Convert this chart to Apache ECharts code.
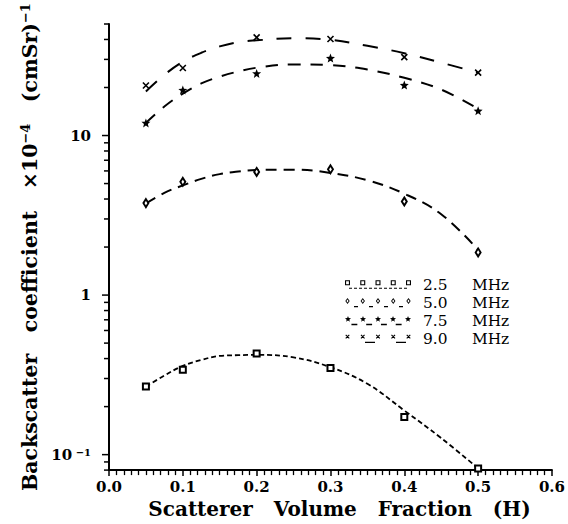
<!DOCTYPE html>
<html>
<head>
<meta charset="utf-8">
<script src="https://cdn.jsdelivr.net/npm/echarts@6/dist/echarts.min.js"></script>
<style>
  html, body { margin: 0; padding: 0; background: #fff; }
  #chart { width: 568px; height: 524px; }
</style>
</head>
<body>
<div id="chart"></div>
<script>
// Measured backscatter coefficients (x10^-4 (cm Sr)^-1) against scatterer volume fraction
const fractions = [0.05, 0.1, 0.2, 0.3, 0.4, 0.5];
const meas25 = [0.267, 0.340, 0.430, 0.349, 0.172, 0.082];
const meas50 = [3.77, 5.13, 5.91, 6.14, 3.86, 1.85];
const meas75 = [12.0, 19.3, 24.5, 30.6, 20.7, 14.3];
const meas90 = [20.6, 26.5, 41.2, 40.3, 31.0, 24.8];

// Fitted curves, sampled along the fraction axis
const fitX = [0.05, 0.075, 0.1, 0.125, 0.15, 0.175, 0.2, 0.25, 0.3, 0.35, 0.4, 0.45, 0.5];
const fit25 = [0.267, 0.313, 0.360, 0.392, 0.416, 0.420, 0.422, 0.407, 0.353, 0.278, 0.189, 0.127, 0.082];
const fit50 = [3.75, 4.37, 4.87, 5.35, 5.73, 5.95, 6.08, 6.11, 5.83, 5.24, 4.32, 3.21, 1.92];
const fit75 = [12.0, 15.2, 18.3, 21.2, 23.4, 25.2, 26.6, 27.9, 27.6, 25.9, 23.0, 19.4, 14.7];
const fit90 = [18.9, 24.0, 29.0, 33.0, 36.2, 38.5, 39.5, 40.7, 39.8, 36.5, 32.8, 28.6, 24.8];

const seriesNames = ['2.5     MHz', '5.0     MHz', '7.5     MHz', '9.0     MHz'];

// Tick values for the logarithmic axis
const yMajorTicks = [0.1, 1, 10];
const yMinorTicks = [0.08, 0.09, 0.2, 0.3, 0.4, 0.5, 0.6, 0.7, 0.8, 0.9,
                     2, 3, 4, 5, 6, 7, 8, 9, 20, 30, 40, 50];

const FONT = 'DejaVu Serif';

// ---- path helpers for the marker glyphs and legend icons ----
function poly(pts, cw) {
  let a = 0;
  for (let i = 0; i < pts.length; i++) {
    const p = pts[i], q = pts[(i + 1) % pts.length];
    a += p[0] * q[1] - q[0] * p[1];
  }
  if ((a > 0) !== cw) pts = pts.slice().reverse();
  return 'M' + pts.map(p => p[0].toFixed(2) + ',' + p[1].toFixed(2)).join('L') + 'Z';
}
function bar(x1, y1, x2, y2, t) {
  const dx = x2 - x1, dy = y2 - y1, L = Math.hypot(dx, dy);
  const nx = -dy / L * t / 2, ny = dx / L * t / 2;
  return poly([[x1 + nx, y1 + ny], [x2 + nx, y2 + ny], [x2 - nx, y2 - ny], [x1 - nx, y1 - ny]], true);
}
function rectRing(cx, cy, s, t) {
  const h = s / 2, i = h - t;
  return poly([[cx - h, cy - h], [cx + h, cy - h], [cx + h, cy + h], [cx - h, cy + h]], true) +
         poly([[cx - i, cy - i], [cx + i, cy - i], [cx + i, cy + i], [cx - i, cy + i]], false);
}
function diamondRing(cx, cy, w, h, t) {
  const a = w / 2, b = h / 2, a2 = a - t, b2 = b - t * 1.4;
  return poly([[cx, cy - b], [cx + a, cy], [cx, cy + b], [cx - a, cy]], true) +
         poly([[cx, cy - b2], [cx + a2, cy], [cx, cy + b2], [cx - a2, cy]], false);
}
function starPts(cx, cy, r, ri) {
  const pts = [];
  for (let k = 0; k < 10; k++) {
    const ang = -Math.PI / 2 + k * Math.PI / 5;
    const rr = k % 2 === 0 ? r : ri;
    pts.push([cx + rr * Math.cos(ang), cy + rr * Math.sin(ang)]);
  }
  return pts;
}
function cross(cx, cy, s, t) {
  const h = s / 2;
  return bar(cx - h, cy - h, cx + h, cy + h, t) + bar(cx + h, cy - h, cx - h, cy + h, t);
}
function dashes(x0, x1, y, dash, gap, t) {
  let p = '';
  for (let x = x0; x < x1; x += dash + gap) p += bar(x, y, Math.min(x + dash, x1), y, t);
  return p;
}

// Series markers
const starSymbol = 'path://' + poly(starPts(10, 10, 10, 4.3), true);
const crossSymbol = 'path://M0,0L10,10M10,0L0,10';

// Legend icons: five markers in a row above a dashed stroke, box 66 x 10
const ICON_CX = [2.5, 17.75, 33, 48.25, 63.5];
const EDGES = bar(0, 9.4, 0.01, 9.4, 1.2) + bar(65.99, 9.4, 66, 9.4, 1.2);
const icon25 = 'path://' + ICON_CX.map(c => rectRing(c, 3, 5, 1.1)).join('') +
  dashes(4, 62, 8.5, 3, 2, 1.2) + EDGES;
const icon50 = 'path://' + ICON_CX.map(c => diamondRing(c, 3, 4.4, 6, 1.1)).join('') +
  bar(9, 8.6, 13, 8.6, 1.3) + bar(24, 8.6, 28, 8.6, 1.3) + bar(39, 8.6, 43, 8.6, 1.3) +
  bar(54, 8.6, 58, 8.6, 1.3) + EDGES;
const icon75 = 'path://' + ICON_CX.map(c => poly(starPts(c, 3.2, 3.2, 1.4), true)).join('') +
  bar(6, 8.6, 12, 8.6, 1.4) + bar(21, 8.6, 27, 8.6, 1.4) + bar(36, 8.6, 42, 8.6, 1.4) +
  bar(51, 8.6, 57, 8.6, 1.4) + EDGES;
const icon90 = 'path://' + ICON_CX.map(c => cross(c, 3, 3.6, 1.1)).join('') +
  bar(20, 8.8, 30, 8.8, 1.3) + bar(51, 8.8, 61, 8.8, 1.3) + EDGES;

const zip = (xs, ys) => xs.map((x, i) => [x, ys[i]]);

const fitStyles = [
  { data: fit25, dash: [5, 3], width: 1.8 },
  { data: fit50, dash: [11, 7], width: 2 },
  { data: fit75, dash: [12.5, 10], width: 2 },
  { data: fit90, dash: [15, 14], width: 2 }
];
const markerStyles = [
  { data: meas25, symbol: 'emptyRect', size: 6, border: 1.4 },
  { data: meas50, symbol: 'emptyDiamond', size: [5, 8], border: 1.4 },
  { data: meas75, symbol: starSymbol, size: 9, border: 0 },
  { data: meas90, symbol: crossSymbol, size: 6, border: 1.6 }
];

const series = [];
seriesNames.forEach((name, i) => {
  const f = fitStyles[i];
  series.push({
    name, type: 'line', data: zip(fitX, f.data), smooth: 0.4,
    showSymbol: false, symbol: 'none', silent: true, z: 2,
    itemStyle: { color: '#000' },
    lineStyle: { color: '#000', width: f.width, type: f.dash }
  });
  const m = markerStyles[i];
  series.push({
    name, type: 'scatter', data: zip(fractions, m.data), z: 3,
    symbol: m.symbol, symbolSize: m.size,
    itemStyle: { color: '#000', borderColor: '#000', borderWidth: m.border, opacity: 1 }
  });
});

// Tick marks on the logarithmic axis, positioned through the axis scale
series.push({
  type: 'custom', coordinateSystem: 'cartesian2d', silent: true, clip: false, z: 5,
  data: yMajorTicks.map(v => [0, v, 1]).concat(yMinorTicks.map(v => [0, v, 0])),
  renderItem(params, api) {
    const p = api.coord([0, api.value(1)]);
    const len = api.value(2) ? 7 : 5;
    return {
      type: 'line',
      shape: { x1: p[0] - len, y1: p[1], x2: p[0], y2: p[1] },
      style: { stroke: '#000', lineWidth: 1.5 }
    };
  }
});

const chart = echarts.init(document.getElementById('chart'), null, { renderer: 'svg' });
chart.setOption({
  animation: false,
  backgroundColor: '#fff',
  color: ['#000'],
  grid: { left: 109, right: 12, top: 24, bottom: 48, containLabel: false },
  legend: {
    orient: 'vertical', left: 345, top: 276, padding: 0, itemGap: 0,
    itemWidth: 66, itemHeight: 10, selectedMode: false,
    itemStyle: { color: '#000', borderWidth: 0 },
    textStyle: { fontFamily: FONT, fontSize: 15.4, color: '#000', lineHeight: 18, padding: [0, 0, 0, 7] },
    data: [
      { name: seriesNames[0], icon: icon25 },
      { name: seriesNames[1], icon: icon50 },
      { name: seriesNames[2], icon: icon75 },
      { name: seriesNames[3], icon: icon90 }
    ]
  },
  xAxis: {
    type: 'value', min: 0, max: 0.6, interval: 0.1,
    name: 'Scatterer   Volume   Fraction   (H)', nameLocation: 'middle', nameGap: 26,
    nameTextStyle: { fontFamily: FONT, fontWeight: 'bold', fontSize: 20, color: '#000', padding: [0, 0, 0, 18] },
    axisLine: { show: true, lineStyle: { color: '#000', width: 2 } },
    axisTick: { show: true, length: 6, lineStyle: { color: '#000', width: 1.5 } },
    minorTick: { show: true, splitNumber: 10, length: 5, lineStyle: { color: '#000', width: 1.3 } },
    splitLine: { show: false },
    axisLabel: {
      margin: 9, fontFamily: FONT, fontWeight: 'bold', fontSize: 15, color: '#000',
      formatter: v => v.toFixed(1)
    }
  },
  yAxis: {
    type: 'log', logBase: 10, min: 0.08, max: 50,
    name: 'Backscatter   coefficient   ×10{sup|−4}   (cmSr){sup|−1}',
    nameLocation: 'middle', nameGap: 67, nameRotate: 90,
    nameTextStyle: {
      fontFamily: FONT, fontWeight: 'bold', fontSize: 20.5, color: '#000',
      rich: { sup: { fontFamily: FONT, fontWeight: 'bold', fontSize: 13, verticalAlign: 'top', color: '#000' } }
    },
    axisLine: { show: true, lineStyle: { color: '#000', width: 2 } },
    axisTick: { show: false },
    splitLine: { show: false },
    axisLabel: {
      margin: 18, fontFamily: FONT, fontWeight: 'bold', fontSize: 15, color: '#000',
      showMinLabel: false, showMaxLabel: false,
      formatter: v => {
        if (Math.abs(v - 0.1) < 1e-9) return '{b|10}{s| −1}';
        if (Math.abs(v - 1) < 1e-9) return '1';
        if (Math.abs(v - 10) < 1e-9) return '10';
        return '';
      },
      rich: {
        b: { fontFamily: FONT, fontWeight: 'bold', fontSize: 15, color: '#000' },
        s: { fontFamily: FONT, fontWeight: 'bold', fontSize: 10, verticalAlign: 'top', color: '#000' }
      }
    }
  },
  series
});
</script>
</body>
</html>
